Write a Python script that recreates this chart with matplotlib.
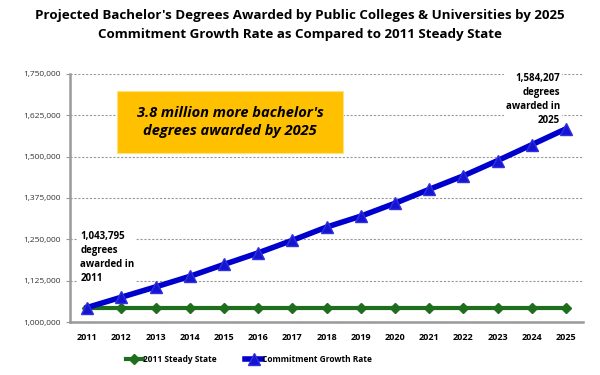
import matplotlib.pyplot as plt
from matplotlib.patches import Rectangle
from matplotlib.ticker import FuncFormatter

years = list(range(2011, 2026))
steady_state = [1043795] * 15
commitment = [1043795, 1075000, 1106000, 1138000, 1174000, 1209000, 1247000,
              1287000, 1320000, 1359000, 1401000, 1442000, 1488000, 1536000,
              1584207]
y_ticks = [1000000, 1125000, 1250000, 1375000, 1500000, 1625000, 1750000]

title = ("Projected Bachelor's Degrees Awarded by Public Colleges & Universities by 2025\n"
         "Commitment Growth Rate as Compared to 2011 Steady State")
callout = "3.8 million more bachelor's\ndegrees awarded by 2025"
note_start = "1,043,795\ndegrees\nawarded in\n2011"
note_end = "1,584,207\ndegrees\nawarded in\n2025"

plt.rcParams['font.family'] = ['Open Sans', 'DejaVu Sans']

fig = plt.figure(figsize=(6, 3.75), dpi=100)
ax = fig.add_axes([0.1167, 0.1413, 0.855, 0.6614])

x = list(range(len(years)))
ax.plot(x, steady_state, color='#1E6E1E', lw=3, marker='D', ms=5,
        mfc='#1E6E1E', mec='#1E6E1E', label='2011 Steady State', zorder=3)
ax.plot(x, commitment, color='#0000CC', lw=4, marker='^', ms=8,
        mfc='#1515D0', mec='#3030E0', label='Commitment Growth Rate', zorder=4)

ax.set_xlim(-0.5, len(years) - 0.5)
ax.set_ylim(1000000, 1750000)
ax.set_xticks(x)
ax.set_xticklabels([str(y) for y in years], fontsize=6.5, fontweight='bold')
ax.set_yticks(y_ticks)
ax.yaxis.set_major_formatter(FuncFormatter(lambda v, p: f"{int(v):,}"))
ax.tick_params(axis='y', labelsize=6, colors='#333333', length=3, color='#999999')
ax.tick_params(axis='x', length=0, pad=8)
ax.grid(axis='y', color='#999999', ls=(0, (2, 1.5)), lw=0.8)
ax.set_axisbelow(True)
for s in ['top', 'right']:
    ax.spines[s].set_visible(False)
for s in ['left', 'bottom']:
    ax.spines[s].set_color('#999999')
    ax.spines[s].set_linewidth(1.8)

fig.suptitle(title, fontsize=9.6, fontweight='bold', y=0.977, linespacing=1.65)

# orange callout box
ax.add_patch(Rectangle((0.0916, 0.681), 0.4405, 0.25, transform=ax.transAxes,
                       fc='#FFC000', ec='#FFE27A', lw=0.8, zorder=5))
ax.text(0.312, 0.806, callout, transform=ax.transAxes, ha='center', va='center',
        fontsize=10.5, fontweight='bold', style='italic', linespacing=1.3, zorder=6)

ax.text(0.02, 0.365, note_start, transform=ax.transAxes, ha='left', va='top',
        fontsize=7, fontweight='bold', linespacing=1.35,
        bbox=dict(boxstyle='square,pad=0.2', fc='white', ec='none'), zorder=5)
ax.text(0.955, 1.002, note_end, transform=ax.transAxes, ha='right', va='top',
        fontsize=7, fontweight='bold', linespacing=1.35,
        bbox=dict(boxstyle='square,pad=0.2', fc='white', ec='none'), zorder=5)

fig.legend(loc='lower center', bbox_to_anchor=(0.415, 0.01), ncol=2, frameon=False,
           prop={'weight': 'bold', 'size': 6}, handlelength=2.0,
           handletextpad=0.0, columnspacing=3.5)

fig.savefig('out.png', dpi=100)
